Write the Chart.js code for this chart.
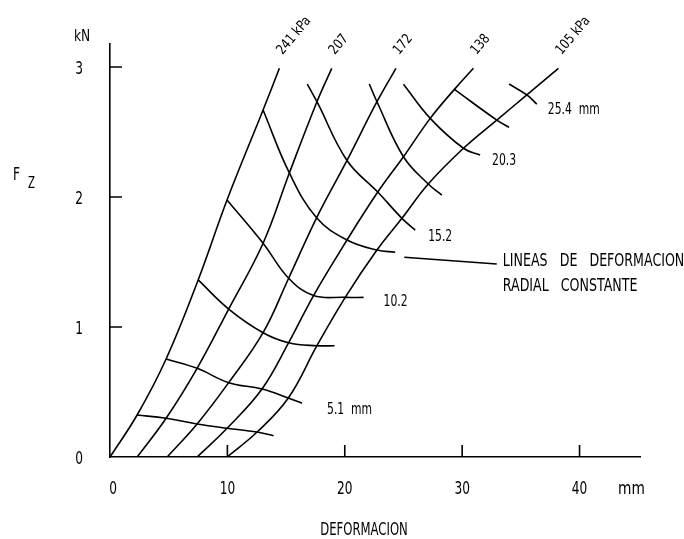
<!DOCTYPE html>
<html lang="es">
<head>
    <meta charset="UTF-8">
    <title>Fz - Deformacion</title>
    <script src="https://cdn.jsdelivr.net/npm/chart.js"></script>
    <style>
        html, body { margin: 0; padding: 0; background: #fff; }
        #wrap { width: 684px; height: 539px; position: relative; }
    </style>
</head>
<body>
    <div id="wrap"><canvas id="fzChart"></canvas></div>

    <script>
        // tick values
        const xTicks = [0, 10, 20, 30, 40];
        const yTicks = [0, 1, 2, 3];

        // curves of constant inflation pressure, [mm, kN]
        const pressureLabels = ['241 kPa', '207', '172', '138', '105 kPa'];
        const p241 = [[0, 0], [2.31, 0.323], [4.78, 0.754], [7.51, 1.362], [9.97, 1.977], [13.04, 2.669], [14.43, 2.99]];
        const p207 = [[2.31, 0], [4.78, 0.298], [7.42, 0.682], [10.11, 1.138], [13.04, 1.644], [15.28, 2.185], [17.63, 2.733], [18.89, 2.99]];
        const p172 = [[4.87, 0], [7.42, 0.254], [10.11, 0.572], [13.04, 0.956], [15.22, 1.375], [17.6, 1.84], [20.19, 2.281], [22.74, 2.733], [24.36, 2.99]];
        const p138 = [[7.42, 0], [9.97, 0.221], [12.95, 0.523], [15.22, 0.879], [17.34, 1.242], [20.19, 1.669], [22.81, 2.038], [25.0, 2.31], [27.28, 2.605], [29.34, 2.828], [30.96, 2.99]];
        const p105 = [[9.97, 0], [12.53, 0.192], [15.19, 0.454], [17.63, 0.856], [20.04, 1.228], [22.74, 1.592], [24.87, 1.836], [27.11, 2.1], [30.11, 2.375], [32.95, 2.592], [35.51, 2.785], [38.2, 2.99]];

        // lines of constant radial deformation, [mm, kN]
        const deformLabels = ['', '5.1  mm', '', '10.2', '', '15.2', '', '20.3', '', '25.4  mm'];
        const d25 = [[2.31, 0.323], [4.78, 0.298], [7.42, 0.254], [9.97, 0.221], [12.53, 0.192], [13.94, 0.164]];
        const d51 = [[4.78, 0.754], [7.42, 0.682], [10.11, 0.572], [12.95, 0.523], [15.19, 0.454], [16.36, 0.413]];
        const d76 = [[7.51, 1.362], [10.11, 1.138], [13.04, 0.956], [15.22, 0.879], [17.63, 0.856], [19.13, 0.856]];
        const d102 = [[9.97, 1.977], [13.04, 1.644], [15.22, 1.375], [17.34, 1.242], [20.04, 1.228], [21.6, 1.228]];
        const d127 = [[13.04, 2.669], [15.28, 2.185], [17.6, 1.84], [20.19, 1.669], [22.74, 1.592], [24.3, 1.575]];
        const d152 = [[16.81, 2.869], [17.63, 2.733], [20.19, 2.281], [22.81, 2.038], [24.87, 1.836], [26.0, 1.746]];
        const d178 = [[22.09, 2.869], [22.74, 2.733], [25.0, 2.31], [27.11, 2.1], [28.27, 2.015]];
        const d203 = [[25.0, 2.867], [27.28, 2.605], [30.11, 2.375], [31.53, 2.323]];
        const d229 = [[29.34, 2.828], [32.95, 2.592], [34.0, 2.536]];
        const d254 = [[34.0, 2.869], [35.51, 2.785], [36.36, 2.715]];

        // leader line to the note
        const noteLines = ['LINEAS   DE   DEFORMACION', 'RADIAL   CONSTANTE'];
        const leader = [[25.07, 1.536], [32.95, 1.485]];

        const pressureCurves = [p241, p207, p172, p138, p105];
        const deformCurves = [d25, d51, d76, d102, d127, d152, d178, d203, d229, d254];

        // styling
        const FONT = "'DejaVu Sans Condensed', 'DejaVu Sans', sans-serif";
        const INK = '#000';
        const LW = 1.6;
        const deformLabelOffsets = [[0, 0], [25, 7], [0, 0], [20, 5], [0, 0], [13, 7], [0, 0], [12, 6], [0, 0], [11, 6]];

        function toPts(arr) {
            return arr.map(p => ({ x: p[0], y: p[1] }));
        }

        function lineSet(arr, tension) {
            return {
                data: toPts(arr),
                showLine: true,
                borderColor: INK,
                borderWidth: LW,
                pointRadius: 0,
                fill: false,
                tension: tension
            };
        }

        let datasets = [];
        pressureCurves.forEach(c => datasets.push(lineSet(c, 0.4)));
        deformCurves.forEach(c => datasets.push(lineSet(c, 0.4)));
        datasets.push(lineSet(leader, 0));

        // narrow drafting-style text
        function txt(ctx, s, x, y, size, sx, align, base) {
            ctx.save();
            ctx.font = size + 'px ' + FONT;
            ctx.textAlign = align || 'left';
            ctx.textBaseline = base || 'middle';
            ctx.translate(x, y);
            ctx.scale(sx, 1);
            ctx.fillText(s, 0, 0);
            ctx.restore();
        }

        const overlay = {
            id: 'overlay',
            afterDraw(chart) {
                const ctx = chart.ctx;
                const xs = chart.scales.x, ys = chart.scales.y;
                const a = chart.chartArea;
                const X = v => xs.getPixelForValue(v);
                const Y = v => ys.getPixelForValue(v);

                ctx.save();
                ctx.strokeStyle = INK;
                ctx.fillStyle = INK;
                ctx.lineWidth = LW;

                // inward tick marks
                ctx.beginPath();
                xTicks.forEach(v => {
                    if (v === 0) return;
                    ctx.moveTo(X(v), a.bottom);
                    ctx.lineTo(X(v), a.bottom - 12);
                });
                yTicks.forEach(v => {
                    if (v === 0) return;
                    ctx.moveTo(a.left, Y(v));
                    ctx.lineTo(a.left + 12, Y(v));
                });
                ctx.stroke();

                // tick labels
                xTicks.forEach(v => txt(ctx, String(v), X(v) + (v === 0 ? 3 : 0), a.bottom + 32, 18, 0.75, 'center'));
                yTicks.forEach(v => txt(ctx, String(v), a.left - 31, Y(v) + 2, 18, 0.75, 'center'));

                // pressure labels, rotated at the top of each curve
                pressureCurves.forEach((c, i) => {
                    const last = c[c.length - 1];
                    ctx.save();
                    ctx.translate(X(last[0]) + 3, Y(last[1]) - 13);
                    ctx.rotate(-50 * Math.PI / 180);
                    txt(ctx, pressureLabels[i], 0, 0, 14, 0.9, 'left', 'alphabetic');
                    ctx.restore();
                });

                // deformation labels at line ends
                deformCurves.forEach((c, i) => {
                    if (!deformLabels[i]) return;
                    const last = c[c.length - 1];
                    const off = deformLabelOffsets[i];
                    txt(ctx, deformLabels[i], X(last[0]) + off[0], Y(last[1]) + off[1], 15, 0.8);
                });

                // note
                const end = leader[leader.length - 1];
                txt(ctx, noteLines[0], X(end[0]) + 6, Y(end[1]) - 3, 18, 0.78);
                txt(ctx, noteLines[1], X(end[0]) + 6, Y(end[1]) + 22, 18, 0.78);

                // axis titles and units
                txt(ctx, 'kN', 74, 37, 16, 0.85);
                txt(ctx, 'mm', 618, 489, 18, 0.85);
                txt(ctx, 'DEFORMACION', 364, 530, 18, 0.72, 'center');
                txt(ctx, 'F', 13, 175, 18, 0.75);
                txt(ctx, 'Z', 28, 184, 15, 0.75);

                ctx.restore();
            }
        };

        new Chart(document.getElementById('fzChart'), {
            type: 'scatter',
            data: { datasets: datasets },
            options: {
                responsive: true,
                maintainAspectRatio: false,
                animation: false,
                events: [],
                layout: { padding: { left: 0, top: 44, right: 44, bottom: 0 } },
                plugins: {
                    legend: { display: false },
                    tooltip: { enabled: false }
                },
                scales: {
                    x: {
                        type: 'linear',
                        min: 0,
                        max: 45.15,
                        grid: { display: false },
                        border: { display: true, color: INK, width: LW },
                        afterBuildTicks: s => { s.ticks = xTicks.map(v => ({ value: v })); },
                        afterFit: s => { s.height = 82; },
                        ticks: { display: false }
                    },
                    y: {
                        type: 'linear',
                        min: 0,
                        max: 3.177,
                        grid: { display: false },
                        border: { display: true, color: INK, width: LW },
                        afterBuildTicks: s => { s.ticks = yTicks.map(v => ({ value: v })); },
                        afterFit: s => { s.width = 110; },
                        ticks: { display: false }
                    }
                }
            },
            plugins: [overlay]
        });
    </script>
</body>
</html>
